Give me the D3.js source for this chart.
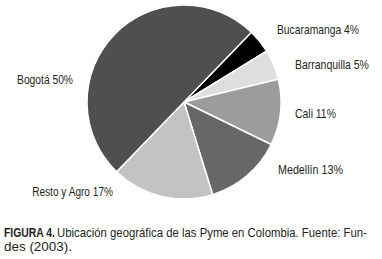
<!DOCTYPE html>
<html>
<head>
<meta charset="utf-8">
<script src="https://cdn.jsdelivr.net/npm/d3@7"></script>
<style>
  body { margin: 0; background: #fff; }
  svg { display: block; }
  text { font-family: "Liberation Sans Narrow", "Arial Narrow", "Liberation Sans", sans-serif; fill: #231f20; }
</style>
</head>
<body>
<svg id="chart" width="382" height="259"></svg>
<script>
// data, clockwise from the Bucaramanga slice
const cities = ['Bucaramanga', 'Barranquilla', 'Cali', 'Medellín', 'Resto y Agro', 'Bogotá'];
const shares = [4, 5, 11, 13, 17, 50];
const fills = ['#000000', '#dedede', '#9c9c9c', '#676767', '#c3c3c3', '#4f4f4f'];

// hand placed labels (x, baseline y, anchor, width) - the original uses a condensed face
const labelPos = [
  [277, 34, 'start', 82],
  [295, 69, 'start', 74],
  [295, 118, 'start', 41],
  [278, 174, 'start', 65],
  [113, 196, 'end', 81],
  [73, 84, 'end', 56]
];

const svg = d3.select('#chart');

const cx = 184, cy = 102, radius = 97;

const pie = d3.pie()
  .sort(null)
  .value(d => d.value)
  .startAngle(44 * Math.PI / 180)
  .endAngle(44 * Math.PI / 180 + 2 * Math.PI);

const arc = d3.arc().innerRadius(0).outerRadius(radius);

const data = cities.map((c, i) => ({ city: c, value: shares[i], fill: fills[i] }));

const g = svg.append('g').attr('transform', `translate(${cx}, ${cy})`);

g.selectAll('path')
  .data(pie(data))
  .join('path')
    .attr('d', arc)
    .attr('fill', d => d.data.fill)
    .attr('stroke', '#fff')
    .attr('stroke-width', 1.5)
    .attr('stroke-linejoin', 'round');

// squeeze a text horizontally to a given width (no narrow font installed)
const squeeze = (sel, x, y, w) => {
  const natural = sel.node().getComputedTextLength();
  sel.attr('transform', `translate(${x}, ${y}) scale(${w / natural}, 1)`);
};

svg.selectAll('text.label')
  .data(data)
  .join('text')
    .attr('class', 'label')
    .attr('text-anchor', (d, i) => labelPos[i][2])
    .attr('font-size', 13)
    .text(d => `${d.city} ${d.value}%`)
    .each(function(d, i) {
      const [x, y, , w] = labelPos[i];
      squeeze(d3.select(this), x, y, w);
    });

// caption
const caption = svg.append('g').attr('font-size', 12.5);
caption.append('text')
  .attr('font-weight', 'bold')
  .text('FIGURA 4.')
  .call(squeeze, 4, 237, 51);
caption.append('text')
  .text('Ubicación geográfica de las Pyme en Colombia. Fuente: Fun-')
  .call(squeeze, 57, 237, 310);
caption.append('text')
  .text('des (2003).')
  .call(squeeze, 4, 251, 68);
</script>
</body>
</html>
